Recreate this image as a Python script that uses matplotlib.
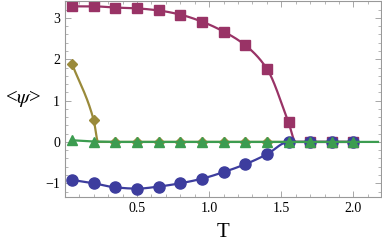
import numpy as np
import matplotlib
matplotlib.use('Agg')
import matplotlib.pyplot as plt
from matplotlib.ticker import MultipleLocator

plt.rcParams['font.family'] = ['Liberation Serif', 'DejaVu Serif']
plt.rcParams['mathtext.fontset'] = 'stix'

# temperatures of the sampled points
T = [0.05, 0.2, 0.35, 0.5, 0.65, 0.8, 0.95, 1.1, 1.25, 1.4, 1.55, 1.7, 1.85, 2.0]

blue_y = [-0.92, -1.0, -1.10, -1.13, -1.08, -1.0, -0.89, -0.73, -0.54, -0.30, 0.0, 0.0, 0.0, 0.0]
magenta_y = [3.28, 3.28, 3.25, 3.23, 3.18, 3.08, 2.91, 2.67, 2.34, 1.77, 0.47, 0.0, 0.0, 0.0]
gold_y = [1.88, 0.52, 0, 0, 0, 0, 0, 0, 0, 0, 0, 0, 0, 0]
green_y = [0.04, 0.01, 0, 0, 0, 0, 0, 0, 0, 0, 0, 0, 0, 0]

# where the curves reach zero
magenta_Tc = 1.60
gold_Tc = 0.23
green_end = 2.17

c_blue = '#3d3d9e'
c_mag = '#993366'
c_gold = '#9a8a3a'
c_green = '#3c9c50'


def smooth(x, y, n=30):
    # monotone cubic (pchip) through the points, only for drawing the line
    x = np.asarray(x, float)
    y = np.asarray(y, float)
    h = np.diff(x)
    d = np.diff(y) / h
    m = np.zeros_like(y)
    for k in range(1, len(x) - 1):
        if d[k - 1] * d[k] > 0:
            w1 = 2 * h[k] + h[k - 1]
            w2 = h[k] + 2 * h[k - 1]
            m[k] = (w1 + w2) / (w1 / d[k - 1] + w2 / d[k])
    m[0] = d[0]
    m[-1] = d[-1]
    xs, ys = [], []
    for k in range(len(h)):
        t = np.linspace(0, 1, n)
        h00 = 2 * t**3 - 3 * t**2 + 1
        h10 = t**3 - 2 * t**2 + t
        h01 = -2 * t**3 + 3 * t**2
        h11 = t**3 - t**2
        xs.append(x[k] + t * h[k])
        ys.append(h00 * y[k] + h10 * h[k] * m[k] + h01 * y[k + 1] + h11 * h[k] * m[k + 1])
    return np.concatenate(xs), np.concatenate(ys)


fig = plt.figure(figsize=(3.82, 2.41), dpi=100)
ax = fig.add_axes([0.170, 0.183, 0.827, 0.813])

# lines (with critical points inserted)
mT = T[:11] + [magenta_Tc] + T[11:]
my = magenta_y[:11] + [0.0] + magenta_y[11:]
ax.plot(*smooth(mT, my), color=c_mag, lw=1.6, zorder=2)
gT = T[:2] + [gold_Tc] + T[2:]
gy = gold_y[:2] + [0.0] + gold_y[2:]
ax.plot(*smooth(gT, gy), color=c_gold, lw=1.6, zorder=3)
ax.plot(*smooth(T, blue_y), color=c_blue, lw=1.6, zorder=4)
ax.plot(T + [green_end], green_y + [0.0], color=c_green, lw=1.6, zorder=5)

# markers
ax.plot(T, magenta_y, 's', color=c_mag, ms=6.5, ls='none', zorder=2)
ax.plot(T, gold_y, 'D', color=c_gold, ms=5, ls='none', zorder=3)
ax.plot(T, blue_y, 'o', color=c_blue, ms=8, ls='none', zorder=4)
ax.plot(T, green_y, '^', color=c_green, ms=6.5, ls='none', zorder=5)

ax.set_xlim(0.0, 2.19)
ax.set_ylim(-1.33, 3.41)

ax.xaxis.set_minor_locator(MultipleLocator(0.1))
ax.yaxis.set_minor_locator(MultipleLocator(0.2))
ax.set_xticks([0.5, 1.0, 1.5, 2.0])
ax.set_xticklabels(['0.5', '1.0', '1.5', '2.0'])
ax.set_yticks([-1, 0, 1, 2, 3])
ax.set_yticklabels(['\u22121', '0', '1', '2', '3'])

ax.tick_params(which='both', direction='in', top=True, right=True, color='#999999',
               labelsize=10)
ax.tick_params(which='major', length=4, width=0.6)
ax.tick_params(which='minor', length=2, width=0.5)
for s in ax.spines.values():
    s.set_color('#999999')
    s.set_linewidth(0.8)

ax.set_xlabel('T', fontsize=15, labelpad=6)
ax.set_ylabel(r'<$\psi$>', fontsize=15, rotation=0, labelpad=16, va='center')

fig.savefig('out.png', dpi=100)
